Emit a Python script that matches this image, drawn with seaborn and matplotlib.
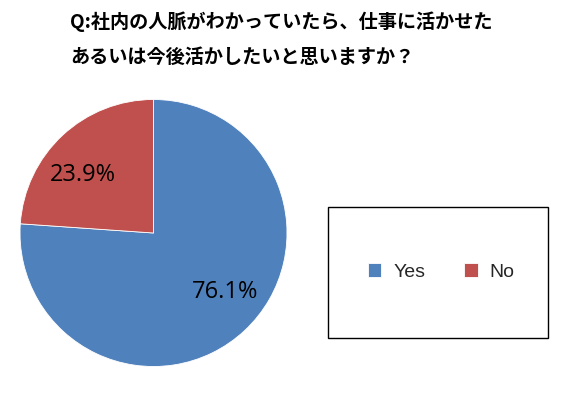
import matplotlib
matplotlib.use("Agg")
import matplotlib.pyplot as plt
from matplotlib.patches import Rectangle
import seaborn as sns

# Survey answers
categories = ["Yes", "No"]
shares = [76.1, 23.9]
title_lines = ["Q:社内の人脈がわかっていたら、仕事に活かせた",
               "あるいは今後活かしたいと思いますか？"]

sns.set_theme(style="white")
plt.rcParams["font.family"] = ["Noto Sans CJK JP", "DejaVu Sans"]

colors = ["#4F81BD", "#C0504D"]

W, H = 572, 401
fig = plt.figure(figsize=(W / 100, H / 100), dpi=100)
fig.patch.set_facecolor("white")

# Pie area: centre (153.5, 233) px, radius 133.5 px
cx, cy, r = 153.5, 233.0, 133.5
ax = fig.add_axes([(cx - r) / W, (H - cy - r) / H, 2 * r / W, 2 * r / H])
wedges, texts, autotexts = ax.pie(
    shares, colors=colors, startangle=90, counterclock=False,
    autopct="%.1f%%", pctdistance=0.69,
    wedgeprops=dict(edgecolor="white", linewidth=0.6),
    textprops=dict(fontsize=17, color="black", family=["Open Sans", "DejaVu Sans"]),
)
# Excel-style "best fit" label placement
label_pos = [(0.534, -0.444), (-0.526, 0.436)]
for t, p in zip(autotexts, label_pos):
    t.set_position(p)
ax.set_xlim(-1.0, 1.0)
ax.set_ylim(-1.0, 1.0)
ax.set_aspect("equal")
ax.axis("off")
for w in wedges:
    w.set_clip_on(False)

# Title
for i, line in enumerate(title_lines):
    fig.text(70 / W, 1 - (22 + 35 * i) / H, line, fontsize=13.8, fontweight="bold",
             ha="left", va="center", color="black")

# Legend box
lx0, ly0, lx1, ly1 = 328, 207, 548, 338
fig.patches.append(Rectangle((lx0 / W, 1 - ly1 / H), (lx1 - lx0) / W, (ly1 - ly0) / H,
                             transform=fig.transFigure, fill=False,
                             edgecolor="black", linewidth=1.0))
fig.legend(wedges, categories, loc="center", bbox_to_anchor=(441 / W, 1 - 272 / H),
           ncol=2, frameon=False, handlelength=0.7, handleheight=0.7,
           handletextpad=0.6, columnspacing=2.0,
           prop=dict(family=["Liberation Sans", "DejaVu Sans"], size=14))

fig.savefig("out.png", dpi=100, facecolor="white")
